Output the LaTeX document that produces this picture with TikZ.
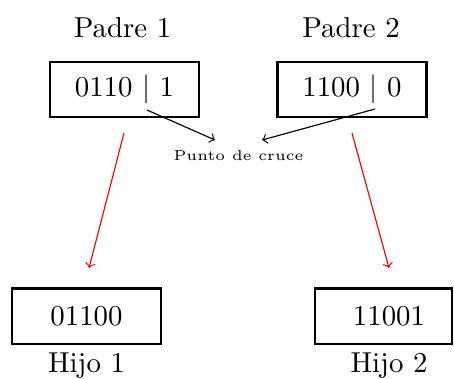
\documentclass[tikz,border=0pt]{standalone}
\begin{document}
\begin{tikzpicture}[x=0.347pt, y=-0.347pt,
  gene/.style={draw, line width=0.7pt, minimum width=51.7pt, minimum height=19.1pt, inner sep=0pt},
  tag/.style={inner sep=0pt},
  cross/.style={->, black, line width=0.4pt},
  child/.style={->, red, line width=0.4pt}]
  \useasboundingbox (0,0) rectangle (454,378);

  % parents
  \node[tag] (l1) at (122.5,27.5) {Padre 1};
  \node[tag] (l2) at (351,27.5) {Padre 2};
  \node[gene] (p1) at (124.5,89.5) {0110 $|$ 1};
  \node[gene] (p2) at (352,89.5) {1100 $|$ 0};

  % crossover point
  \node[tag] (cx) at (238.5,156) {\tiny Punto de cruce};
  \coordinate (c1) at (147,110);
  \coordinate (c2) at (375,109);
  \coordinate (e1) at (215,140);
  \coordinate (e2) at (262,140);
  \draw[cross] (c1) -- (e1);
  \draw[cross] (c2) -- (e2);

  % offspring
  \node[gene] (h1) at (86.5,316) {01100};
  \node[gene, minimum width=47.5pt] (h2) at (383.5,316) {};
  \node[tag] (h2t) at (389,316) {11001};
  \node[tag] (k1) at (86.5,366) {Hijo 1};
  \node[tag] (k2) at (389,366) {Hijo 2};

  \coordinate (s1) at (124,133);
  \coordinate (t1) at (89,268);
  \coordinate (s2) at (352,133);
  \coordinate (t2) at (389,268);
  \draw[child] (s1) -- (t1);
  \draw[child] (s2) -- (t2);
\end{tikzpicture}
\end{document}
